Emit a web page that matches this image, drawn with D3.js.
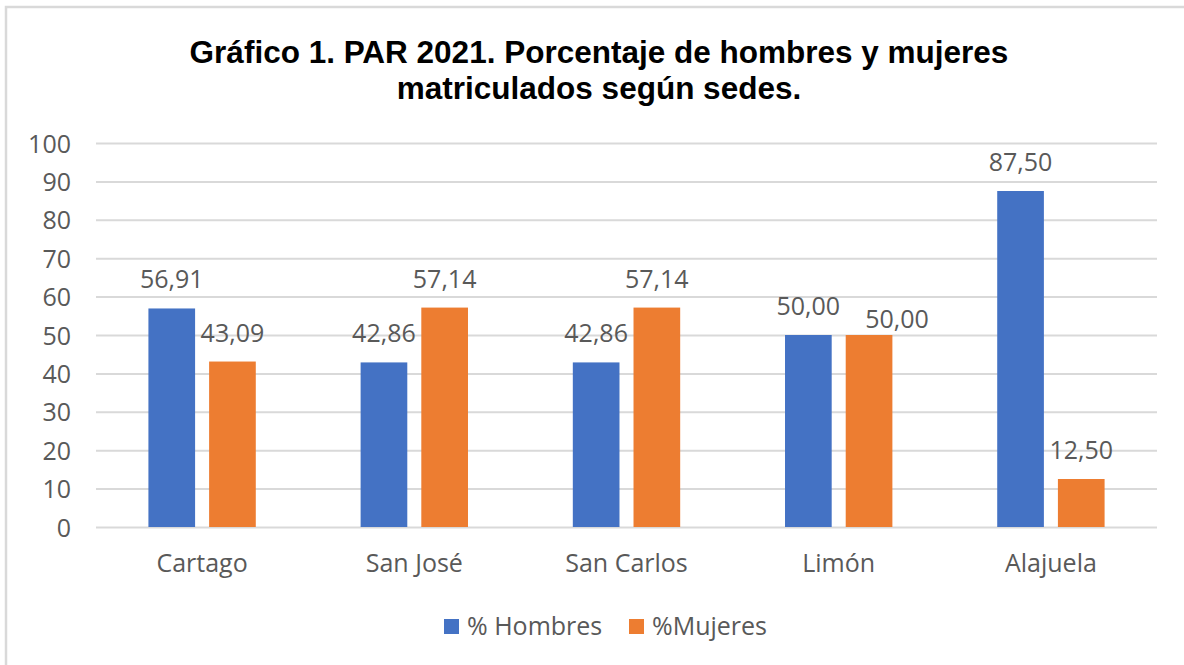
<!DOCTYPE html>
<html>
<head>
<meta charset="utf-8">
<script src="https://cdn.jsdelivr.net/npm/d3@7"></script>
<style>
  body { margin:0; background:#fff; overflow:hidden; }
  svg { display:block; }
  text { font-family:"Open Sans", sans-serif; }
</style>
</head>
<body>
<div id="graph"></div>
<script>
// datos del gráfico
const sedes = ["Cartago", "San José", "San Carlos", "Limón", "Alajuela"]
const hombres = [56.91, 42.86, 42.86, 50.00, 87.50]
const mujeres = [43.09, 57.14, 57.14, 50.00, 12.50]
const series = ["% Hombres", "%Mujeres"]
const colores = ["#4472c4", "#ed7d31"]
const titulo = ["Gráfico 1. PAR 2021. Porcentaje de hombres y mujeres", "matriculados según sedes."]

const width = 1184, height = 665
const margin = {left: 96, right: 27, top: 143, bottom: 138}

let svg = d3.select("#graph").append("svg")
    .attr("width", width).attr("height", height)

// marco del gráfico
svg.append("rect")
    .attr("x", 6).attr("y", 7)
    .attr("width", width + 10).attr("height", height + 10)
    .attr("fill", "#fff").attr("stroke", "#d9d9d9").attr("stroke-width", 2.5)

// titulo
svg.append("g").selectAll("text")
    .data(titulo)
    .enter().append("text")
    .attr("x", 599).attr("y", (d, i) => 63 + i * 36)
    .attr("text-anchor", "middle")
    .style("font-family", "'Liberation Sans', Arial, sans-serif")
    .style("font-weight", "bold").style("font-size", "31.5px")
    .attr("fill", "#000")
    .text(d => d)

let x0 = d3.scaleBand().domain(sedes)
    .range([margin.left, width - margin.right])
    .paddingInner(0.494).paddingOuter(0.247)
let x1 = d3.scaleBand().domain(series)
    .range([0, x0.bandwidth()]).paddingInner(0.231)
let y = d3.scaleLinear().domain([0, 100])
    .range([height - margin.bottom, margin.top])

// lineas de la grilla + eje y
let yAxis = svg.append("g")
    .attr("transform", "translate(" + margin.left + ",0)")
    .call(d3.axisLeft(y).ticks(10).tickSize(-(width - margin.right - margin.left)).tickPadding(25))
yAxis.select(".domain").remove()
yAxis.selectAll("line").attr("stroke", "#d9d9d9").attr("stroke-width", 2)
yAxis.selectAll("text")
    .attr("fill", "#595959").style("font-size", "25px")
    .attr("dy", "0.36em")

// eje x (solo etiquetas)
let xAxis = svg.append("g")
    .attr("transform", "translate(0," + (height - margin.bottom) + ")")
    .call(d3.axisBottom(x0).tickSize(0).tickPadding(27))
xAxis.select(".domain").remove()
xAxis.selectAll("text")
    .attr("fill", "#595959").style("font-size", "25px")

// tabla de barras
let filas = []
sedes.forEach(function(s, i) {
    filas.push({sede: s, serie: series[0], valor: hombres[i], color: colores[0]})
    filas.push({sede: s, serie: series[1], valor: mujeres[i], color: colores[1]})
})

svg.append("g").selectAll("rect")
    .data(filas)
    .enter().append("rect")
    .attr("x", d => x0(d.sede) + x1(d.serie))
    .attr("y", d => y(d.valor))
    .attr("width", x1.bandwidth())
    .attr("height", d => y(0) - y(d.valor))
    .attr("fill", d => d.color)

// etiquetas de datos, formato con coma decimal
const fmt = v => d3.format(".2f")(v).replace(".", ",")
let etiquetas = svg.append("g").selectAll("text")
    .data(filas)
    .enter().append("text")
    .attr("x", d => x0(d.sede) + x1(d.serie) + x1.bandwidth() / 2)
    .attr("y", d => y(d.valor) - 20)
    .attr("text-anchor", "middle")
    .attr("fill", "#595959").style("font-size", "25px")
    .text(d => fmt(d.valor))

// si dos etiquetas se pisan, la segunda se corre a la derecha y abajo (como en Limón)
let prev = null
etiquetas.each(function(d) {
    let b = this.getBBox()
    if (prev && prev.sede == d.sede && b.x < prev.box.x + prev.box.width
        && Math.abs(b.y - prev.box.y) < b.height) {
        d3.select(this)
            .attr("x", +d3.select(this).attr("x") + 28)
            .attr("y", +d3.select(this).attr("y") + 13)
    }
    prev = {sede: d.sede, box: b}
})

// leyenda
let ley = svg.append("g").selectAll("g")
    .data(series)
    .enter().append("g")
    .attr("transform", (d, i) => "translate(" + (444 + i * 185) + ",619)")
ley.append("rect")
    .attr("width", 15).attr("height", 15)
    .attr("fill", (d, i) => colores[i])
ley.append("text")
    .attr("x", 23).attr("y", 16)
    .attr("fill", "#595959").style("font-size", "25px")
    .text(d => d)
</script>
</body>
</html>
